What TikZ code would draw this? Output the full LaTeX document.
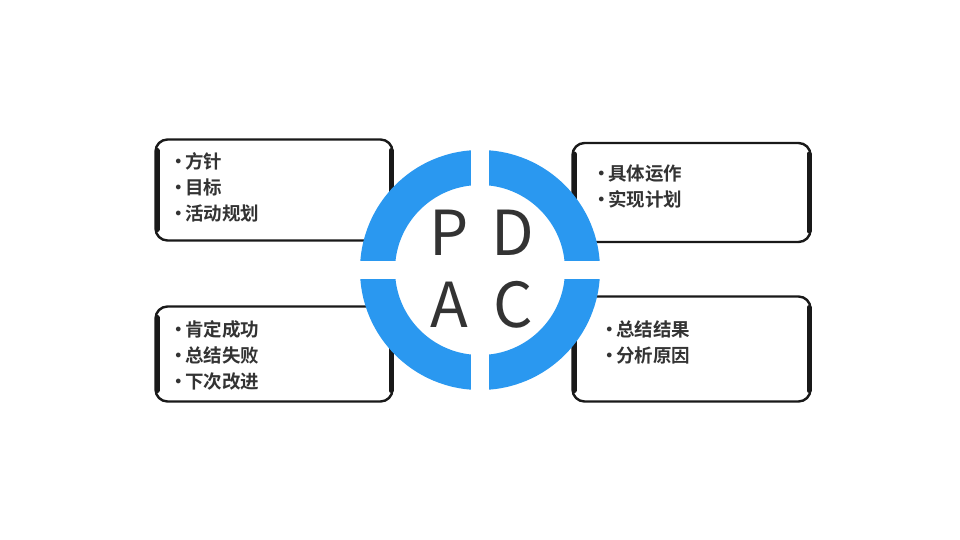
\documentclass[tikz,border=0pt]{standalone}
\usepackage{fontspec}
\newfontfamily\cjk{Noto Sans CJK SC}
\newfontfamily\cjkb{Noto Sans CJK SC Bold}
\definecolor{ringblue}{RGB}{42,152,240}
\definecolor{txt}{RGB}{51,51,51}
\newcommand{\bul}{·\kern-2.5pt}
\begin{document}
\begin{tikzpicture}[x=1pt,y=-1pt,
  box/.style={draw=black!90, line width=2.4pt, rounded corners=12pt, fill=white, inner sep=0pt, outer sep=0pt},
  side/.style={draw=black!90, line width=5pt, line cap=round},
  items/.style={anchor=west, align=left, text=txt, inner sep=0pt, font=\cjkb\fontsize{18.5}{26}\selectfont},
  letter/.style={text=txt, inner sep=0pt, font=\cjk\fontsize{62}{62}\selectfont}]
\useasboundingbox (0,0) rectangle (960,540);
\fill[white] (0,0) rectangle (960,540);
% boxes
\node[box, minimum width=237pt, minimum height=101pt] (tl) at (274,190) {};
\node[box, minimum width=238pt, minimum height=99pt] (tr) at (691.5,192.5) {};
\node[box, minimum width=237pt, minimum height=95pt] (bl) at (274,354) {};
\node[box, minimum width=238pt, minimum height=105pt] (br) at (691.5,349) {};
\foreach \b in {tl,tr,bl,br}{
  \draw[side] ([yshift=-11pt,xshift=1.5pt]\b.north west) -- ([yshift=11pt,xshift=1.5pt]\b.south west);
  \draw[side] ([yshift=-11pt,xshift=-1.5pt]\b.north east) -- ([yshift=11pt,xshift=-1.5pt]\b.south east);
}
% ring
\fill[ringblue, even odd rule] (480,270) circle[radius=120] (480,270) circle[radius=85];
\fill[white] (471,145) rectangle (489,395);
\fill[white] (355,261) rectangle (605,279);
% letters
\node[letter] (p) at (449,233) {P};
\node[letter] (d) at (513,233) {D};
\node[letter] (a) at (449,305) {A};
\node[letter] (c) at (513,305) {C};
% texts
\node[items] (tlt) at (169,187) {\bul{}方针\\\bul{}目标\\\bul{}活动规划};
\node[items] (trt) at (592,187) {\bul{}具体运作\\\bul{}实现计划};
\node[items] (blt) at (169,355) {\bul{}肯定成功\\\bul{}总结失败\\\bul{}下次改进};
\node[items] (brt) at (600,342) {\bul{}总结结果\\\bul{}分析原因};
\end{tikzpicture}
\end{document}
